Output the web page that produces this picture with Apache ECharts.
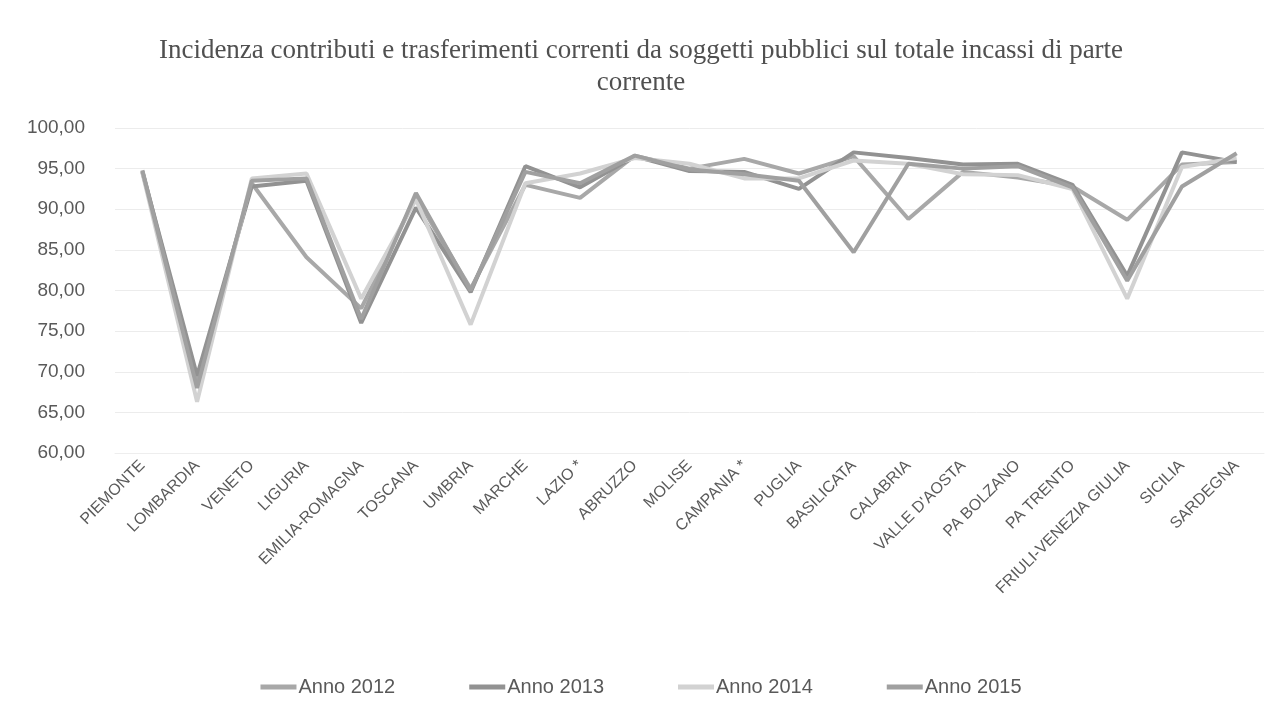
<!DOCTYPE html>
<html>
<head>
<meta charset="utf-8">
<script src="https://cdn.jsdelivr.net/npm/echarts@6/dist/echarts.min.js"></script>
<style>
html,body{margin:0;padding:0;background:#fff;}
#chart{width:1282px;height:724px;}
</style>
</head>
<body>
<div id="chart"></div>
<script>
const categories = ["PIEMONTE","LOMBARDIA","VENETO","LIGURIA","EMILIA-ROMAGNA","TOSCANA","UMBRIA","MARCHE","LAZIO *","ABRUZZO","MOLISE","CAMPANIA *","PUGLIA","BASILICATA","CALABRIA","VALLE D'AOSTA","PA BOLZANO","PA TRENTO","FRIULI-VENEZIA GIULIA","SICILIA","SARDEGNA"];
const anno2012 = [94.8,68.5,93.2,84.1,77.8,91.5,80.2,93.0,91.4,96.6,95.0,96.2,94.4,96.5,88.8,94.6,93.9,92.8,88.7,95.5,95.8];
const anno2013 = [94.6,69.5,92.8,93.5,76.0,90.2,79.8,95.3,92.7,96.5,94.7,94.6,92.5,97.0,96.3,95.5,95.6,93.0,81.8,97.0,95.8];
const anno2014 = [94.5,66.3,93.8,94.4,79.0,91.2,75.8,93.2,94.4,96.3,95.6,93.8,93.8,96.0,95.6,94.3,94.2,92.5,79.0,95.2,96.3];
const anno2015 = [94.7,68.0,93.5,93.8,76.5,92.0,80.0,94.6,93.2,96.6,94.9,94.3,93.5,84.7,95.6,95.0,95.3,92.7,81.2,92.8,96.9];
const seriesNames = ["Anno 2012","Anno 2013","Anno 2014","Anno 2015"];
const seriesData = [anno2012, anno2013, anno2014, anno2015];
const seriesColors = ["#a8a8a8","#929292","#d2d2d2","#a0a0a0"];

const chart = echarts.init(document.getElementById('chart'));
chart.setOption({
  animation: false,
  backgroundColor: '#ffffff',
  title: {
    text: 'Incidenza contributi e trasferimenti correnti da soggetti pubblici sul totale incassi di parte\ncorrente',
    left: 'center',
    top: 30,
    textStyle: {
      fontFamily: 'Liberation Serif',
      fontSize: 27,
      fontWeight: 'normal',
      color: '#505050',
      lineHeight: 32
    }
  },
  legend: {
    bottom: 22,
    left: 'center',
    icon: 'rect',
    itemWidth: 36,
    itemHeight: 5,
    itemGap: 74,
    textStyle: {
      fontFamily: 'Liberation Sans',
      fontSize: 20,
      color: '#595959',
      padding: [0, 0, 0, -3]
    },
    data: seriesNames
  },
  grid: {
    left: 115,
    right: 18,
    top: 128,
    bottom: 271,
    containLabel: false
  },
  xAxis: {
    type: 'category',
    data: categories,
    boundaryGap: true,
    axisLine: { show: true, lineStyle: { color: '#eeeeee' } },
    axisTick: { show: false },
    axisLabel: {
      rotate: 45,
      interval: 0,
      margin: 10,
      fontFamily: 'Liberation Sans',
      fontSize: 16,
      color: '#5a5a5a'
    }
  },
  yAxis: {
    type: 'value',
    min: 60,
    max: 100,
    interval: 5,
    axisLine: { show: false },
    axisTick: { show: false },
    splitLine: { show: true, lineStyle: { color: '#ececec', width: 1 } },
    axisLabel: {
      margin: 30,
      fontFamily: 'Liberation Sans',
      fontSize: 19,
      color: '#595959',
      formatter: v => v.toFixed(2).replace('.', ',')
    }
  },
  series: seriesNames.map((n, i) => ({
    name: n,
    type: 'line',
    data: seriesData[i],
    symbol: 'none',
    smooth: false,
    lineStyle: { width: 4, color: seriesColors[i] },
    itemStyle: { color: seriesColors[i] }
  }))
});
</script>
</body>
</html>
